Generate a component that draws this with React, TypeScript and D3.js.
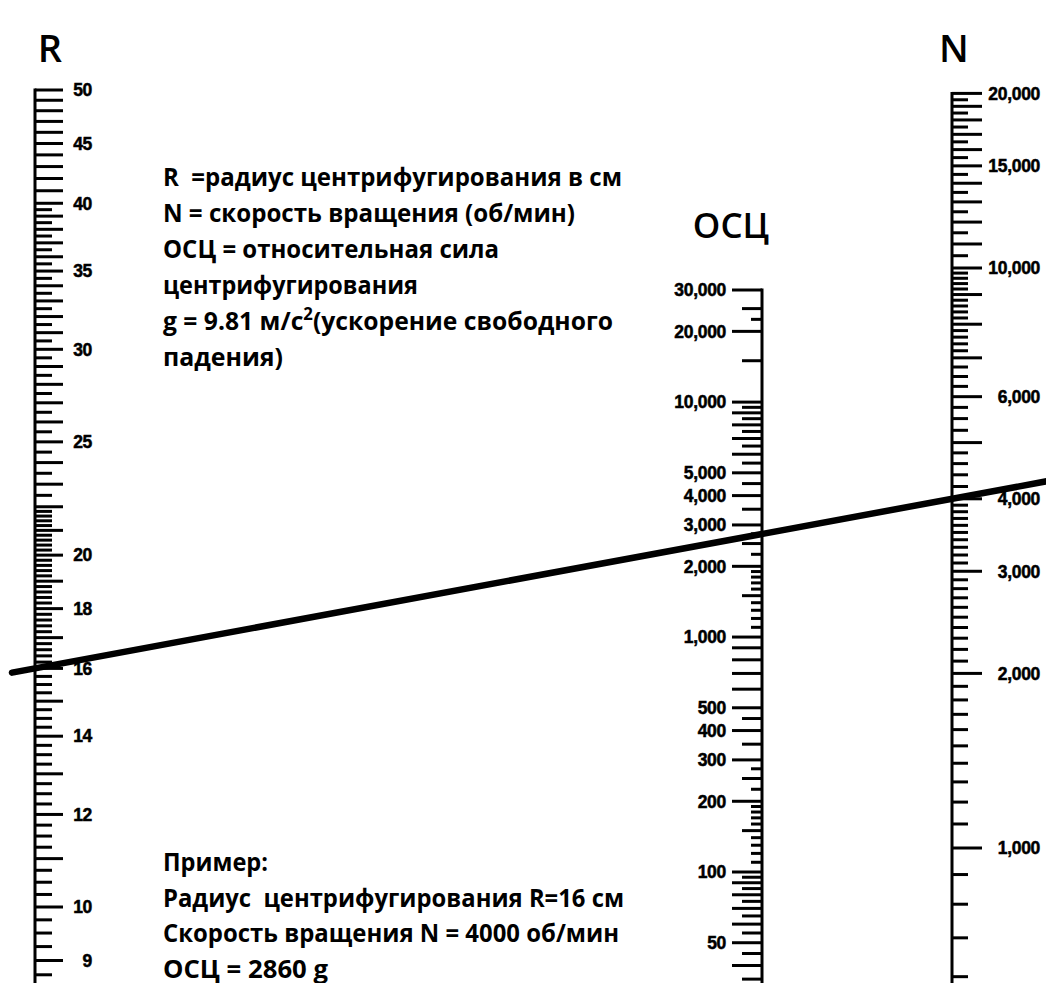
import React from "react";
import * as d3 from "d3";

// R scale (cm)
const rLabels = [50, 45, 40, 35, 30, 25, 20, 18, 16, 14, 12, 10, 9];
const rTickRuns = [
  [8.5, 16, 0.25],
  [16, 22, 0.2],
  [22, 40, 0.5],
  [40, 50, 1],
];

// N scale (rpm)
const nLabels = [20000, 15000, 10000, 6000, 4000, 3000, 2000, 1000];
const nTickRuns = [
  [500, 4000, 100],
  [4000, 5000, 200],
  [5000, 7000, 250],
  [7000, 10000, 200],
  [10000, 20000, 500],
];

// RCF scale (g)
const rcfLabels = [30000, 20000, 10000, 5000, 4000, 3000, 2000, 1000, 500, 400, 300, 200, 100, 50];
const rcfTickRuns = [
  [30, 100, 5],
  [100, 200, 10],
  [200, 300, 25],
  [300, 500, 50],
  [500, 2000, 100],
  [2000, 3000, 250],
  [3000, 10000, 500],
];
const rcfExtraTicks = [15000, 20000, 22500, 25000, 30000];

// example reading
const exampleR = 16;
const exampleN = 4000;

const legendLines = [
  "R  =радиус центрифугирования в см",
  "N = скорость вращения (об/мин)",
  "ОСЦ = относительная сила",
  "центрифугирования",
  "g = 9.81 м/с|2|(ускорение свободного",
  "падения)",
];
const legendWidths = [459, 412, 336, 255, 450, 120];

const exampleLines = [
  "Пример:",
  "Радиус  центрифугирования R=16 см",
  "Скорость вращения N = 4000 об/мин",
  "ОСЦ = 2860 g",
];
const exampleWidths = [105, 461, 456, 165];

const W = 1046;
const H = 983;

const rAxisX = 35;
const nAxisX = 952;
const rcfAxisX = 762;

const rScale = d3.scaleLog().domain([10, 50]).range([907, 90]);
const nScale = d3.scaleLog().domain([1000, 20000]).range([848, 93.4]);
const rcfScale = d3.scaleLog().domain([100, 30000]).range([872, 290]);

const fmt = d3.format(",");

function runTicks(runs: number[][]) {
  const set = new Map<string, number>();
  runs.forEach(([a, b, s]) => {
    const n = Math.round((b - a) / s);
    for (let i = 0; i <= n; i++) {
      const v = +(a + i * s).toFixed(4);
      set.set(v.toFixed(4), v);
    }
  });
  return Array.from(set.values()).sort((x, y) => x - y);
}

const isInt = (v: number) => Math.abs(v - Math.round(v)) < 1e-6;

function mantissa(v: number) {
  return v / Math.pow(10, Math.floor(Math.log10(v) + 1e-9));
}

const tickFont = "'Liberation Sans', Arial, Helvetica, sans-serif";
const textFont = "'Open Sans', 'Noto Sans', sans-serif";

const tickText = {
  fontFamily: tickFont,
  fontWeight: 700,
  fontSize: 17.5,
  stroke: "#000",
  strokeWidth: 0.5,
  letterSpacing: -0.3,
};

function TextLine({ text, x, y, width }: { text: string; x: number; y: number; width: number }) {
  const parts = text.split("|");
  return (
    <text
      x={x}
      y={y}
      fontFamily={textFont}
      fontWeight={700}
      fontSize={25}
      fill="#000"
      textLength={width}
      lengthAdjust="spacingAndGlyphs"
      style={{ whiteSpace: "pre" }}
    >
      {parts.length === 1
        ? text
        : [
            <tspan key="a">{parts[0]}</tspan>,
            <tspan key="b" fontSize={17} dy={-10}>
              {parts[1]}
            </tspan>,
            <tspan key="c" dy={10}>
              {parts[2]}
            </tspan>,
          ]}
    </text>
  );
}

export default function App() {
  const rTicks = runTicks(rTickRuns).filter((v) => rScale(v) <= H + 5);
  const nTicks = runTicks(nTickRuns).filter((v) => nScale(v) <= H + 5);
  const rcfTicks = runTicks(rcfTickRuns)
    .concat(rcfExtraTicks)
    .filter((v) => rcfScale(v) <= H + 5);

  // example line through R=16 and N=4000
  const p1 = [rAxisX, rScale(exampleR)];
  const p2 = [nAxisX, nScale(exampleN)];
  const slope = (p2[1] - p1[1]) / (p2[0] - p1[0]);
  const x0 = 12;
  const x1 = W + 10;
  const lineY = (x: number) => p1[1] + slope * (x - p1[0]);

  return (
    <svg
      width={W}
      height={H}
      style={{ position: "absolute", left: 0, top: 0, background: "#fff" }}
    >
      <rect width={W} height={H} fill="#fff" />

      {/* R axis */}
      <g>
        <line x1={rAxisX} x2={rAxisX} y1={rScale(50) - 1.5} y2={H + 10} stroke="#000" strokeWidth={3} />
        {rTicks.map((v) => (
          <line
            key={"r" + v}
            x1={rAxisX}
            x2={rAxisX + (isInt(v) ? 28 : 17)}
            y1={rScale(v)}
            y2={rScale(v)}
            stroke="#000"
            strokeWidth={3}
          />
        ))}
        {rLabels.map((v) => (
          <text key={"rl" + v} x={92} y={rScale(v)} dy="0.36em" textAnchor="end" {...tickText}>
            {v}
          </text>
        ))}
        <text x={50} y={62} textAnchor="middle" fontFamily={textFont} fontWeight={600} fontSize={38}>
          R
        </text>
      </g>

      {/* RCF axis */}
      <g>
        <line
          x1={rcfAxisX}
          x2={rcfAxisX}
          y1={rcfScale(30000) - 1.5}
          y2={H + 10}
          stroke="#000"
          strokeWidth={3}
        />
        {rcfTicks.map((v) => {
          const m = mantissa(v);
          const len = isInt(m) ? 30 : isInt(m * 2) ? 20 : 11;
          return (
            <line
              key={"c" + v}
              x1={rcfAxisX}
              x2={rcfAxisX - len}
              y1={rcfScale(v)}
              y2={rcfScale(v)}
              stroke="#000"
              strokeWidth={3}
            />
          );
        })}
        {rcfLabels.map((v) => (
          <text key={"cl" + v} x={726} y={rcfScale(v)} dy="0.36em" textAnchor="end" {...tickText}>
            {fmt(v)}
          </text>
        ))}
        <text x={731} y={238} textAnchor="middle" fontFamily={textFont} fontWeight={600} fontSize={35}>
          ОСЦ
        </text>
      </g>

      {/* N axis */}
      <g>
        <line x1={nAxisX} x2={nAxisX} y1={nScale(20000) - 1.5} y2={H + 10} stroke="#000" strokeWidth={3} />
        {nTicks.map((v) => (
          <line
            key={"n" + v}
            x1={nAxisX}
            x2={nAxisX + (v % 1000 === 0 ? 30 : 16)}
            y1={nScale(v)}
            y2={nScale(v)}
            stroke="#000"
            strokeWidth={3}
          />
        ))}
        {nLabels.map((v) => (
          <text key={"nl" + v} x={1040} y={nScale(v)} dy="0.36em" textAnchor="end" {...tickText}>
            {fmt(v)}
          </text>
        ))}
        <text x={954} y={62} textAnchor="middle" fontFamily={textFont} fontWeight={600} fontSize={38}>
          N
        </text>
      </g>

      {/* legend text */}
      {legendLines.map((t, i) => (
        <TextLine key={"lg" + i} text={t} x={163} y={186 + i * 36} width={legendWidths[i]} />
      ))}
      {exampleLines.map((t, i) => (
        <TextLine key={"ex" + i} text={t} x={163} y={871 + i * 35.5} width={exampleWidths[i]} />
      ))}

      {/* example reading line */}
      <line
        x1={x0}
        y1={lineY(x0)}
        x2={x1}
        y2={lineY(x1)}
        stroke="#000"
        strokeWidth={6.5}
        strokeLinecap="round"
      />
    </svg>
  );
}
